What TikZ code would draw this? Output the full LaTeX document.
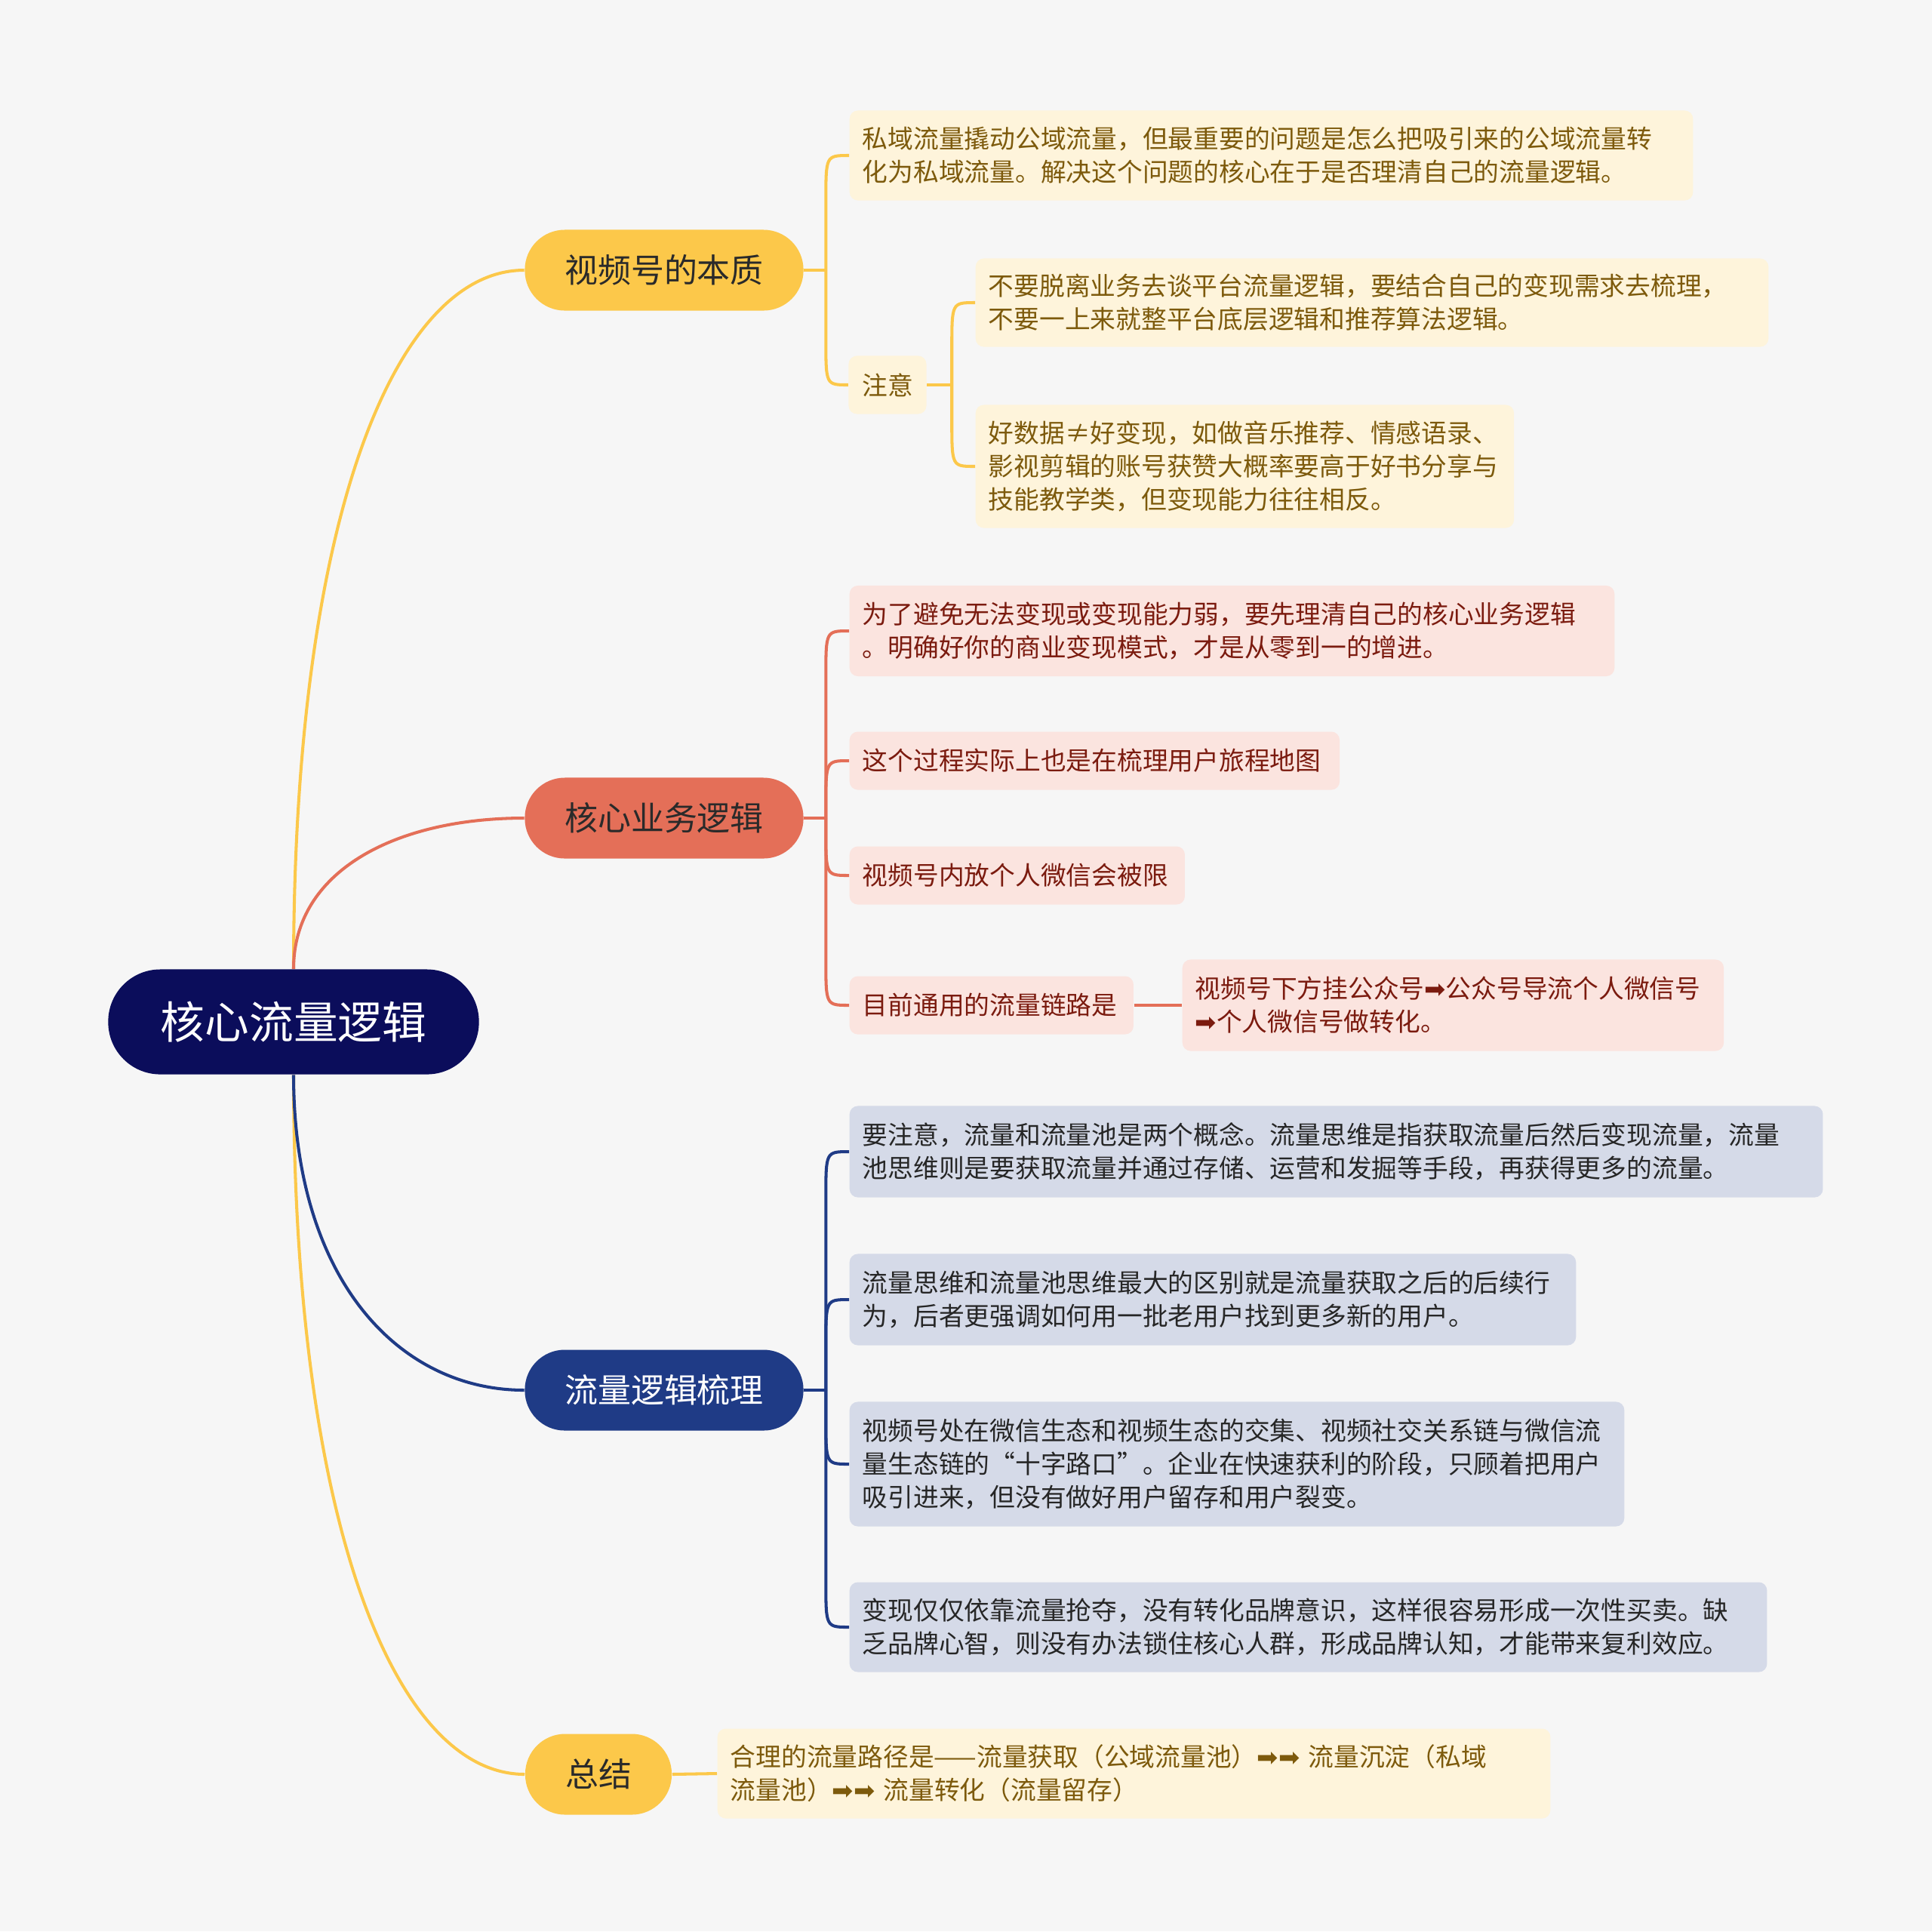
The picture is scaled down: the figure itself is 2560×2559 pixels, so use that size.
\documentclass[tikz,border=0pt]{standalone}
\usepackage{fontspec}
\setmainfont{Noto Sans CJK SC}
\newfontfamily\arrowfont{DejaVu Sans}
\usetikzlibrary{calc}

\definecolor{bgcol}{HTML}{F6F6F6}
\definecolor{rootcol}{HTML}{0B0D5B}
\definecolor{yellowcol}{HTML}{FCC84A}
\definecolor{coralcol}{HTML}{E46F58}
\definecolor{navycol}{HTML}{1F3B86}
\definecolor{yleafcol}{HTML}{FEF4DB}
\definecolor{ytextcol}{HTML}{7D5A0C}
\definecolor{rleafcol}{HTML}{FBE4DF}
\definecolor{rtextcol}{HTML}{7B1B0F}
\definecolor{bleafcol}{HTML}{D5DAE8}
\definecolor{btextcol}{HTML}{262626}
\definecolor{branchtext}{HTML}{2A2A2A}

\newcommand{\fatarrow}{{\arrowfont ➡}}

\tikzset{
  rootbox/.style={fill=rootcol, text=white, rounded corners=0.69cm,
    minimum width=4.91cm, minimum height=1.39cm,
    font=\fontsize{16.7}{20}\selectfont},
  branchbox/.style={rounded corners=0.53cm, minimum width=3.69cm,
    minimum height=1.07cm, text=branchtext,
    font=\fontsize{12.5}{15}\selectfont},
  leaf/.style={anchor=west, rounded corners=0.11cm, inner xsep=0.17cm,
    inner ysep=0pt, align=left, font=\fontsize{9.6}{12.5}\selectfont},
  yleaf/.style={leaf, fill=yleafcol, text=ytextcol},
  rleaf/.style={leaf, fill=rleafcol, text=rtextcol},
  bleaf/.style={leaf, fill=bleafcol, text=btextcol},
  link/.style={line width=1.15pt},
  ylink/.style={link, draw=yellowcol},
  rlink/.style={link, draw=coralcol},
  blink/.style={link, draw=navycol}
}

\begin{document}
\begin{tikzpicture}[x=0.01cm, y=-0.01cm]
  \fill[bgcol] (0,0) rectangle (2560,2559);

  % centre and main branches
  \node[rootbox] (root) at (389,1354) {核心流量逻辑};
  \node[branchbox, fill=yellowcol] (ess) at (880,358) {视频号的本质};
  \node[branchbox, fill=coralcol] (biz) at (880,1084) {核心业务逻辑};
  \node[branchbox, fill=navycol, text=white] (flow) at (880,1842) {流量逻辑梳理};
  \node[branchbox, fill=yellowcol, minimum width=1.94cm] (sum) at (793,2351) {总结};

  % 视频号的本质
  \node[yleaf, text width=10.83cm, minimum height=1.19cm] (ess1) at (1125,206)
    {私域流量撬动公域流量，但最重要的问题是怎么把吸引来的公域流量转\\化为私域流量。解决这个问题的核心在于是否理清自己的流量逻辑。};
  \node[leaf, anchor=center, fill=yleafcol, text=ytextcol, align=center,
    inner xsep=0pt, minimum width=1.03cm, minimum height=0.77cm] (note) at (1176,510) {注意};
  \node[yleaf, text width=10.16cm, minimum height=1.17cm] (note1) at (1292,401)
    {不要脱离业务去谈平台流量逻辑，要结合自己的变现需求去梳理，\\不要一上来就整平台底层逻辑和推荐算法逻辑。};
  \node[yleaf, text width=6.79cm, minimum height=1.63cm] (note2) at (1292,618)
    {好数据≠好变现，如做音乐推荐、情感语录、\\影视剪辑的账号获赞大概率要高于好书分享与\\技能教学类，但变现能力往往相反。};

  % 核心业务逻辑
  \node[rleaf, text width=9.79cm, minimum height=1.20cm] (biz1) at (1125,836)
    {为了避免无法变现或变现能力弱，要先理清自己的核心业务逻辑\\。明确好你的商业变现模式，才是从零到一的增进。};
  \node[rleaf, text width=6.15cm, minimum height=0.77cm] (biz2) at (1125,1008)
    {这个过程实际上也是在梳理用户旅程地图};
  \node[rleaf, text width=4.10cm, minimum height=0.77cm] (biz3) at (1125,1160)
    {视频号内放个人微信会被限};
  \node[rleaf, text width=3.42cm, minimum height=0.77cm] (biz4) at (1125,1332)
    {目前通用的流量链路是};
  \node[rleaf, text width=6.83cm, minimum height=1.21cm] (biz5) at (1566,1332)
    {视频号下方挂公众号\fatarrow{}公众号导流个人微信号\\\fatarrow{}个人微信号做转化。};

  % 流量逻辑梳理
  \node[bleaf, text width=12.55cm, minimum height=1.21cm] (flow1) at (1125,1526)
    {要注意，流量和流量池是两个概念。流量思维是指获取流量后然后变现流量，流量\\池思维则是要获取流量并通过存储、运营和发掘等手段，再获得更多的流量。};
  \node[bleaf, text width=9.28cm, minimum height=1.21cm] (flow2) at (1125,1722)
    {流量思维和流量池思维最大的区别就是流量获取之后的后续行\\为，后者更强调如何用一批老用户找到更多新的用户。};
  \node[bleaf, text width=9.92cm, minimum height=1.65cm] (flow3) at (1125,1940)
    {视频号处在微信生态和视频生态的交集、视频社交关系链与微信流\\量生态链的“十字路口”。企业在快速获利的阶段，只顾着把用户\\吸引进来，但没有做好用户留存和用户裂变。};
  \node[bleaf, text width=11.81cm, minimum height=1.19cm] (flow4) at (1125,2156)
    {变现仅仅依靠流量抢夺，没有转化品牌意识，这样很容易形成一次性买卖。缺\\乏品牌心智，则没有办法锁住核心人群，形成品牌认知，才能带来复利效应。};

  % 总结
  \node[yleaf, text width=10.69cm, minimum height=1.19cm] (sum1) at (950,2350)
    {合理的流量路径是——流量获取（公域流量池）\fatarrow\fatarrow{} 流量沉淀（私域\\流量池）\fatarrow\fatarrow{} 流量转化（流量留存）};

  % root to branches
  \draw[ylink] (root.north) .. controls +(0,-600) and +(-170,0) .. (ess.west);
  \draw[rlink] (root.north) .. controls +(0,-130) and +(-170,0) .. (biz.west);
  \draw[ylink] (root.south) .. controls +(0,600) and +(-170,0) .. (sum.west);
  \draw[blink] (root.south) .. controls +(0,270) and +(-167,0) .. (flow.west);

  % branches to leaves
  \coordinate (essj) at ($(ess.east)+(29,0)$);
  \coordinate (notej) at ($(note.east)+(33,0)$);
  \coordinate (bizj) at ($(biz.east)+(29,0)$);
  \coordinate (flowj) at ($(flow.east)+(29,0)$);
  \draw[ylink] (ess.east) -- (essj);
  \draw[ylink] (note.east) -- (notej);
  \draw[rlink] (biz.east) -- (bizj);
  \draw[blink] (flow.east) -- (flowj);
  \foreach \l in {ess1,note}
    \draw[ylink] (essj) -- ($(essj |- \l.west)!0.6cm!(essj)$) .. controls (essj |- \l.west) .. (\l.west);
  \foreach \l in {note1,note2}
    \draw[ylink] (notej) -- ($(notej |- \l.west)!0.6cm!(notej)$) .. controls (notej |- \l.west) .. (\l.west);
  \foreach \l in {biz1,biz2,biz3,biz4}
    \draw[rlink] (bizj) -- ($(bizj |- \l.west)!0.6cm!(bizj)$) .. controls (bizj |- \l.west) .. (\l.west);
  \foreach \l in {flow1,flow2,flow3,flow4}
    \draw[blink] (flowj) -- ($(flowj |- \l.west)!0.6cm!(flowj)$) .. controls (flowj |- \l.west) .. (\l.west);
  \draw[rlink] (biz4.east) -- (biz5.west);
  \draw[ylink] (sum.east) -- (sum1.west);
\end{tikzpicture}
\end{document}
